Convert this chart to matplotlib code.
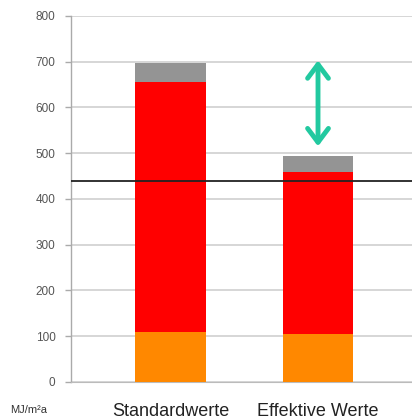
import matplotlib
matplotlib.use("Agg")
import matplotlib.pyplot as plt

categories = ["Standardwerte", "Effektive Werte"]
orange_part = [110, 105]
red_part = [545, 355]
gray_part = [43, 35]
reference_line = 440
arrow_span = (703, 515)
yticks = [0, 100, 200, 300, 400, 500, 600, 700, 800]
unit_label = "MJ/m²a"

plt.rcParams['font.family'] = ['Liberation Sans', 'DejaVu Sans']

fig = plt.figure(figsize=(4.12, 4.2), dpi=100)
ax = fig.add_axes([0.172, 0.0905, 0.828, 0.8715])

x = list(range(len(categories)))
w = 0.48
ax.bar(x, orange_part, width=w, color="#FF8800", zorder=3)
ax.bar(x, red_part, width=w, bottom=orange_part, color="#FF0000", zorder=3)
bottoms = [o + r for o, r in zip(orange_part, red_part)]
ax.bar(x, gray_part, width=w, bottom=bottoms, color="#949494", zorder=3)

ax.axhline(reference_line, color="#222222", lw=1.3, zorder=4)

# double-headed arrow marking the gap between the two totals
ax.annotate("", xy=(1, arrow_span[0]), xytext=(1, arrow_span[1]),
            arrowprops=dict(arrowstyle="<->,head_length=1.0,head_width=0.75",
                            color="#22C9A0", lw=3.5, shrinkA=0, shrinkB=0,
                            capstyle="round", joinstyle="round"),
            zorder=5)

ax.set_xlim(-0.675, 1.637)
ax.set_ylim(0, 800)
ax.set_yticks(yticks)
ax.set_yticklabels([str(v) for v in yticks], color="#555555", fontsize=8.5)
ax.yaxis.grid(True, color="#d0d0d0", lw=1.2, zorder=0)
ax.set_axisbelow(True)
ax.tick_params(axis="y", length=4, width=1, color="#aaaaaa", pad=7)
ax.set_xticks(x)
ax.set_xticklabels(categories, fontsize=13, color="#222222")
ax.tick_params(axis="x", length=0, pad=15)

for s in ["top", "right"]:
    ax.spines[s].set_visible(False)
ax.spines["left"].set_color("#aaaaaa")
ax.spines["bottom"].set_color("#bbbbbb")
ax.spines["left"].set_linewidth(1)

fig.text(0.07, 0.016, unit_label, fontsize=8, color="#333333", ha="center")

fig.savefig("out.png", dpi=100)
